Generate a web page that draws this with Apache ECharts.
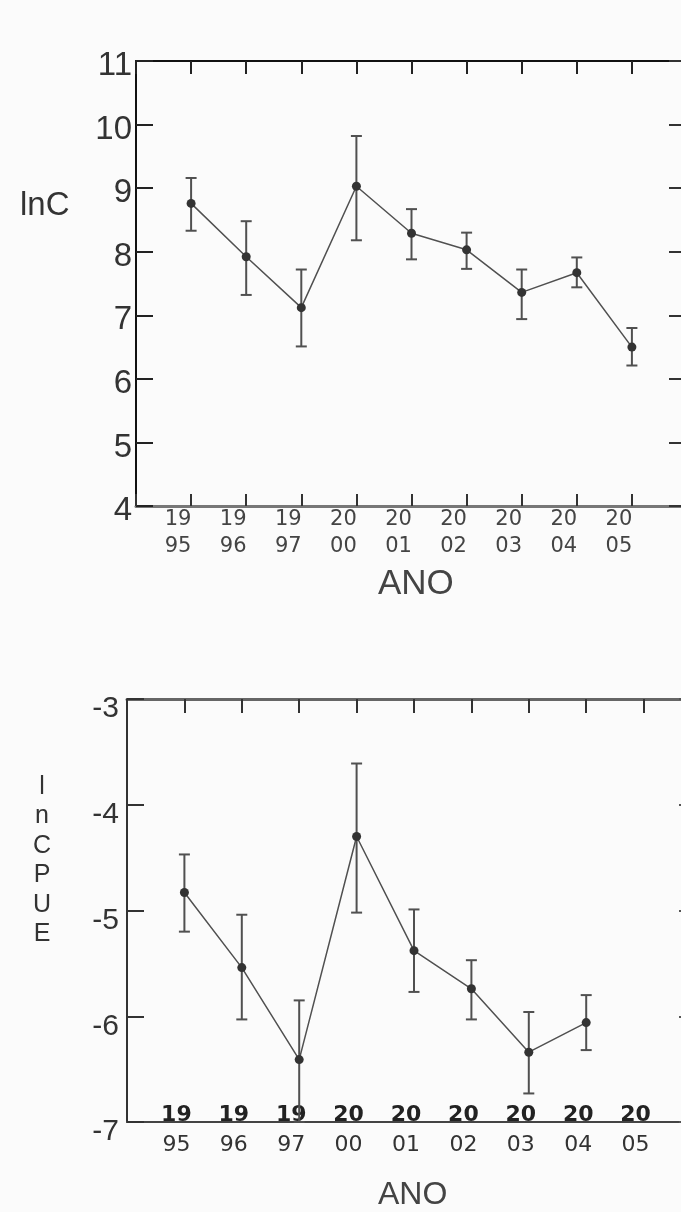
<!DOCTYPE html>
<html>
<head>
<meta charset="utf-8">
<script src="https://cdn.jsdelivr.net/npm/echarts@6/dist/echarts.min.js"></script>
<style>
html,body{margin:0;padding:0;background:#fbfbfb;}
#c{width:681px;height:1212px;}
</style>
</head>
<body>
<div id="c"></div>
<script>
// ---- data ----
const years = ['1995','1996','1997','2000','2001','2002','2003','2004','2005'];
const lnC = [8.76, 7.92, 7.12, 9.03, 8.29, 8.03, 7.36, 7.67, 6.50];
const lnCLow = [8.33, 7.32, 6.51, 8.18, 7.88, 7.73, 6.94, 7.44, 6.21];
const lnCHigh = [9.16, 8.48, 7.72, 9.82, 8.67, 8.30, 7.72, 7.91, 6.80];
const lnCPUE = [-4.83, -5.54, -6.41, -4.30, -5.38, -5.74, -6.34, -6.06, null];
const lnCPUELow = [-5.20, -6.03, -7.00, -5.02, -5.77, -6.03, -6.73, -6.32, null];
const lnCPUEHigh = [-4.47, -5.04, -5.85, -3.61, -4.99, -5.47, -5.96, -5.80, null];
const yRange1 = [4, 11];
const yRange2 = [-7, -3];

const chart = echarts.init(document.getElementById('c'), null, {renderer: 'canvas'});

function pts(vals) {
  const out = [];
  vals.forEach((v, i) => { if (v !== null) out.push([i + 1, v]); });
  return out;
}
function bars(lo, hi) {
  const out = [];
  lo.forEach((v, i) => { if (v !== null) out.push([i + 1, v, hi[i]]); });
  return out;
}
function yearLabel(v) {
  const i = Math.round(v) - 1;
  if (i < 0 || i >= years.length) return '';
  return '{a|' + years[i].slice(0, 2) + '}\n{b|' + years[i].slice(2) + '}';
}
function errRender(params, api) {
  const x = api.value(0);
  const lo = api.coord([x, api.value(1)]);
  const hi = api.coord([x, api.value(2)]);
  const w = 5.5;
  const st = {stroke: '#505050', lineWidth: 2};
  return {
    type: 'group',
    children: [
      {type: 'line', shape: {x1: lo[0], y1: lo[1], x2: hi[0], y2: hi[1]}, style: st},
      {type: 'line', shape: {x1: hi[0] - w, y1: hi[1], x2: hi[0] + w, y2: hi[1]}, style: st},
      {type: 'line', shape: {x1: lo[0] - w, y1: lo[1], x2: lo[0] + w, y2: lo[1]}, style: st}
    ]
  };
}

const xFont = 'DejaVu Sans';
const yFont = 'Liberation Sans';

const option = {
  backgroundColor: '#fbfbfb',
  animation: false,
  grid: [
    {left: 136, top: 61, width: 551, height: 445, containLabel: false, outerBoundsMode: 'none'},
    {left: 127, top: 699, width: 574, height: 423, containLabel: false, outerBoundsMode: 'none'}
  ],
  xAxis: [
    {
      gridIndex: 0, type: 'value', min: 0, max: 10, interval: 1, position: 'bottom',
      axisLine: {onZero: false, lineStyle: {color: '#777', width: 3}},
      axisTick: {inside: true, length: 12, lineStyle: {color: '#333', width: 2}},
      splitLine: {show: false},
      axisLabel: {
        formatter: yearLabel, margin: 0, padding: [0, 26, 0, 0],
        rich: {
          a: {fontFamily: xFont, fontSize: 21, lineHeight: 27, color: '#444'},
          b: {fontFamily: xFont, fontSize: 21, lineHeight: 27, color: '#444'}
        }
      }
    },
    {
      gridIndex: 0, type: 'value', min: 0, max: 10, interval: 1, position: 'top',
      axisLine: {onZero: false, lineStyle: {color: '#111', width: 2}},
      axisTick: {inside: true, length: 13, lineStyle: {color: '#222', width: 2}},
      splitLine: {show: false}, axisLabel: {show: false}
    },
    {
      gridIndex: 1, type: 'value', min: 0, max: 10, interval: 1, position: 'bottom',
      axisLine: {onZero: false, lineStyle: {color: '#444', width: 2}},
      axisTick: {show: false},
      splitLine: {show: false},
      axisLabel: {
        formatter: yearLabel, margin: -22, padding: [0, 16, 0, 0],
        rich: {
          a: {fontFamily: xFont, fontSize: 22, lineHeight: 30, color: '#222', fontWeight: 'bold'},
          b: {fontFamily: xFont, fontSize: 22, lineHeight: 30, color: '#333'}
        }
      }
    },
    {
      gridIndex: 1, type: 'value', min: 0, max: 10, interval: 1, position: 'top',
      axisLine: {onZero: false, lineStyle: {color: '#666', width: 3}},
      axisTick: {inside: true, length: 14, lineStyle: {color: '#333', width: 2}},
      splitLine: {show: false}, axisLabel: {show: false}
    }
  ],
  yAxis: [
    {
      gridIndex: 0, type: 'value', min: yRange1[0], max: yRange1[1], interval: 1, position: 'left',
      axisLine: {onZero: false, lineStyle: {color: '#111', width: 2}},
      axisTick: {inside: true, length: 17, lineStyle: {color: '#222', width: 2}},
      splitLine: {show: false},
      axisLabel: {fontFamily: yFont, fontSize: 33, color: '#333', margin: 4, verticalAlign: 'top', lineHeight: 10}
    },
    {
      gridIndex: 0, type: 'value', min: yRange1[0], max: yRange1[1], interval: 1, position: 'right',
      axisLine: {onZero: false, lineStyle: {color: '#111', width: 2}},
      axisTick: {inside: true, length: 18, lineStyle: {color: '#333', width: 2}},
      splitLine: {show: false}, axisLabel: {show: false}
    },
    {
      gridIndex: 1, type: 'value', min: yRange2[0], max: yRange2[1], interval: 1, position: 'left',
      axisLine: {onZero: false, lineStyle: {color: '#333', width: 2}},
      axisTick: {inside: true, length: 17, lineStyle: {color: '#333', width: 2}},
      splitLine: {show: false},
      axisLabel: {fontFamily: yFont, fontSize: 30, color: '#333', margin: 8, verticalAlign: 'top', lineHeight: 20}
    },
    {
      gridIndex: 1, type: 'value', min: yRange2[0], max: yRange2[1], interval: 1, position: 'right',
      axisLine: {onZero: false, lineStyle: {color: '#333', width: 2}},
      axisTick: {inside: true, length: 22, lineStyle: {color: '#555', width: 2}},
      splitLine: {show: false}, axisLabel: {show: false}
    }
  ],
  series: [
    {
      type: 'custom', xAxisIndex: 0, yAxisIndex: 0, renderItem: errRender,
      data: bars(lnCLow, lnCHigh), encode: {x: 0, y: [1, 2]}, z: 2, clip: false
    },
    {
      type: 'line', xAxisIndex: 0, yAxisIndex: 0, data: pts(lnC),
      symbol: 'circle', symbolSize: 9,
      itemStyle: {color: '#333'}, lineStyle: {color: '#505050', width: 1.5}, z: 3
    },
    {
      type: 'custom', xAxisIndex: 2, yAxisIndex: 2, renderItem: errRender,
      data: bars(lnCPUELow, lnCPUEHigh), encode: {x: 0, y: [1, 2]}, z: 2, clip: false
    },
    {
      type: 'line', xAxisIndex: 2, yAxisIndex: 2, data: pts(lnCPUE),
      symbol: 'circle', symbolSize: 9,
      itemStyle: {color: '#333'}, lineStyle: {color: '#505050', width: 1.5}, z: 3
    }
  ],
  graphic: [
    {type: 'text', left: 20, top: 189, style: {text: 'lnC', font: '33px "Liberation Sans"', fill: '#333'}},
    {type: 'text', left: 378, top: 567, style: {text: 'ANO', font: '35px "Liberation Sans"', fill: '#444'}},
    {type: 'text', left: 378, top: 1179, style: {text: 'ANO', font: '32px "Liberation Sans"', fill: '#444'}},
    {type: 'text', x: 42, y: 772, style: {text: 'l\nn\nC\nP\nU\nE', font: '25px "Liberation Sans"', fill: '#333', align: 'center', lineHeight: 29.5}}
  ]
};
chart.setOption(option);
</script>
</body>
</html>
